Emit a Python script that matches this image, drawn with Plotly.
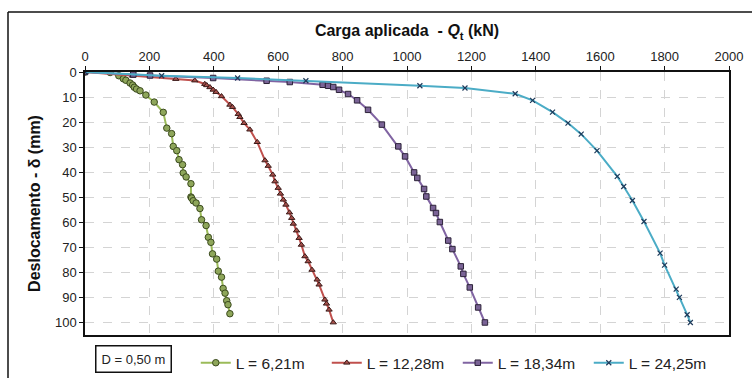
import plotly.graph_objects as go

# Data: applied load Qt (kN) vs displacement delta (mm)
q_621 = [0, 78, 105, 119, 127, 140, 148, 153, 160, 171, 189, 215, 243, 254, 269, 274, 285, 292, 303, 305, 314, 329,
         329, 331, 336, 345, 357, 362, 376, 383, 391, 396, 409, 414, 424, 429, 435, 440, 444, 450]
d_621 = [0, 0.2, 1.5, 2.7, 3.3, 4.4, 5.2, 6.1, 6.8, 7.5, 9.2, 12.0, 16.1, 22.4, 24.6, 29.7, 31.4, 35.0, 37.0, 40.3, 41.9, 44.6,
         49.9, 50.3, 51.4, 52.3, 54.5, 59.0, 61.3, 66.0, 68.0, 72.6, 74.7, 79.5, 81.9, 86.4, 88.3, 91.3, 92.9, 96.5]

q_1228 = [0, 148, 282, 341, 372, 378, 388, 398, 407, 424, 450, 458, 476, 481, 494, 512, 535, 559, 569, 583, 590, 600,
          607, 616, 624, 635, 642, 647, 657, 665, 672, 683, 693, 705, 721, 727, 745, 750, 758, 771]
d_1228 = [0, 1.5, 2.8, 3.4, 4.8, 5.3, 6.1, 7.1, 8.0, 9.7, 13.1, 14.0, 16.8, 18.0, 20.4, 23.0, 28.0, 35.3, 37.5, 41.0, 43.7, 46.3,
          48.6, 51.0, 53.0, 56.1, 58.3, 60.6, 63.3, 66.3, 69.0, 73.6, 75.6, 79.0, 82.9, 84.9, 90.9, 92.5, 94.9, 100.0]

q_1834 = [0, 150, 202, 398, 564, 636, 738, 755, 771, 789, 817, 845, 879, 922, 973, 994, 1022, 1032, 1053, 1060,
          1081, 1090, 1102, 1128, 1141, 1167, 1175, 1195, 1221, 1242]
d_1834 = [0, 1.0, 1.4, 2.4, 3.5, 4.0, 5.1, 5.5, 6.0, 7.1, 8.8, 11.3, 15.1, 21.0, 29.7, 33.7, 40.1, 42.3, 46.7, 49.7,
          54.3, 56.3, 59.9, 67.3, 70.7, 77.6, 80.6, 86.0, 94.0, 100.0]

q_2425 = [0, 238, 474, 686, 1040, 1180, 1336, 1390, 1452, 1500, 1541, 1590, 1653, 1673, 1700, 1736, 1786, 1800,
          1836, 1846, 1870, 1880]
d_2425 = [0, 1.5, 2.4, 3.5, 5.5, 6.4, 8.7, 11.3, 16.0, 20.4, 24.8, 31.4, 41.7, 45.7, 51.3, 59.7, 72.3, 77.1,
          86.7, 90.0, 96.9, 100.0]

names = ["L = 6,21m", "L = 12,28m", "L = 18,34m", "L = 24,25m"]
x_ticks = list(range(0, 2001, 200))
y_ticks = list(range(0, 101, 10))

fig = go.Figure()

fig.add_trace(go.Scatter(
    x=q_621, y=d_621, name=names[0], mode="lines+markers",
    line=dict(color="#9BBB59", width=2),
    marker=dict(symbol="circle", size=6.5, color="#8EA65A", line=dict(color="#3B4A1E", width=1)),
))
fig.add_trace(go.Scatter(
    x=q_1228, y=d_1228, name=names[1], mode="lines+markers",
    line=dict(color="#C0504D", width=2),
    marker=dict(symbol="triangle-up", size=5.5, color="#A6504B", line=dict(color="#3A1A18", width=1)),
))
fig.add_trace(go.Scatter(
    x=q_1834, y=d_1834, name=names[2], mode="lines+markers",
    line=dict(color="#8064A2", width=2),
    marker=dict(symbol="square", size=5.5, color="#7A6396", line=dict(color="#2C2238", width=1)),
))
fig.add_trace(go.Scatter(
    x=q_2425, y=d_2425, name=names[3], mode="lines+markers",
    line=dict(color="#4BACC6", width=2),
    marker=dict(symbol="x-thin", size=5, color="#1F3A5A", line=dict(color="#1F3A5A", width=1.2)),
))

font_family = "Liberation Sans, Arial, sans-serif"

fig.update_layout(
    width=752, height=378,
    margin=dict(l=85, r=23, t=72, b=43, autoexpand=False),
    paper_bgcolor="white", plot_bgcolor="white",
    font=dict(family=font_family, size=13, color="#222222"),
    showlegend=True,
    legend=dict(
        orientation="h", x=0.172, xanchor="left", y=-0.107, yanchor="middle",
        font=dict(size=15.5, color="#222222"), bgcolor="rgba(0,0,0,0)",
        itemwidth=30, entrywidth=86, entrywidthmode="pixels",
    ),
    xaxis=dict(
        side="top", range=[0, 2000], tickvals=x_ticks, ticktext=[str(v) for v in x_ticks],
        showgrid=True, gridcolor="#D4D4D4", griddash="dash", gridwidth=1,
        showline=True, linecolor="#111111", linewidth=1.5, mirror=True,
        ticks="outside", ticklen=4, tickcolor="#111111",
        zeroline=False,
        title=dict(text="<b>Carga aplicada  - <i>Q</i><sub>t</sub> (kN)</b>",
                   font=dict(size=16, color="#111111"), standoff=8),
    ),
    yaxis=dict(
        range=[105, 0], tickvals=y_ticks, ticktext=[str(v) for v in y_ticks],
        showgrid=True, gridcolor="#D4D4D4", griddash="dash", gridwidth=1,
        showline=True, linecolor="#111111", linewidth=1.5, mirror=True,
        ticks="outside", ticklen=4, tickcolor="#111111",
        zeroline=False,
        title=dict(text="<b>Deslocamento - δ (mm)</b>",
                   font=dict(size=16, color="#111111"), standoff=10),
    ),
    annotations=[dict(
        text="D = 0,50 m", xref="paper", yref="paper",
        x=(133 - 85) / 644, y=(335 - 359) / 263, xanchor="center", yanchor="middle",
        showarrow=False, font=dict(size=13, color="#222222"),
        bordercolor="#111111", borderwidth=1.5, borderpad=5, bgcolor="white",
    )],
    shapes=[
        dict(type="line", xref="paper", yref="paper",
             x0=(8 - 85) / 644, x1=(760 - 85) / 644, y0=(335 - 12) / 263, y1=(335 - 12) / 263,
             line=dict(color="#111111", width=1.5)),
        dict(type="line", xref="paper", yref="paper",
             x0=(8 - 85) / 644, x1=(8 - 85) / 644, y0=(335 - 12) / 263, y1=(335 - 390) / 263,
             line=dict(color="#111111", width=1.5)),
    ],
)

fig.write_html("out.html")
